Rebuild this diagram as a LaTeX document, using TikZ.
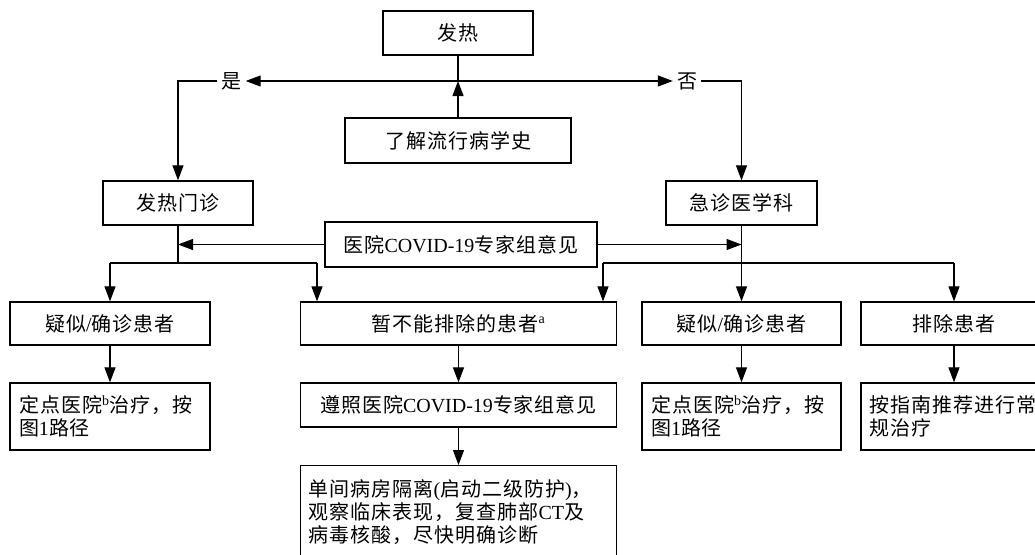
\documentclass[tikz,border=0pt]{standalone}
\usepackage{fontspec}
\setmainfont{Noto Sans CJK SC}[LetterSpace=5]
\newfontfamily\lat{Liberation Serif}
\usetikzlibrary{arrows.meta}
\tikzset{
 box/.style={draw, line width=1.3pt, minimum height=44pt, inner sep=0pt, font=\fontsize{20}{23}\selectfont},
 mbox/.style={box, align=left, inner xsep=0pt},
 conn/.style={line width=1.2pt},
 arr/.style={conn, -{Triangle[length=15pt,width=11pt]}},
 lbl/.style={inner xsep=4pt, inner ysep=2pt, font=\fontsize{20}{23}\selectfont},
}
\newcommand\mysup[1]{\textsuperscript{\lat #1}}
\begin{document}
\begin{tikzpicture}[x=1pt,y=-1pt]
\useasboundingbox (0,0) rectangle (1035,554);
\clip (0,0) rectangle (1035,554);
% nodes
\node[box, minimum width=150pt] (fever) at (458,33) {发热};
\node[box, minimum width=226pt, minimum height=45pt] (epi) at (458,140.5) {了解流行病学史};
\coordinate (J) at (458,81);
\node[lbl] (yes) at (231.5,81) {是};
\node[lbl] (no) at (687,81) {否};
\node[box, minimum width=150pt] (fc) at (178,203) {发热门诊};
\node[box, minimum width=151pt] (er) at (741.5,203) {急诊医学科};
\node[box, minimum width=272pt, minimum height=45pt] (exp) at (461,244.5) {医院{\lat COVID-19}专家组意见};
\node[box, minimum width=200pt, minimum height=43pt] (s1) at (110,323.5) {疑似{\lat /}确诊患者};
\node[box, minimum width=316pt, minimum height=43pt] (unk) at (458.5,323.5) {暂不能排除的患者\mysup{a}};
\node[box, minimum width=199pt, minimum height=43pt] (s2) at (741.5,323.5) {疑似{\lat /}确诊患者};
\node[box, minimum width=186pt, minimum height=43pt] (exc) at (954,323.5) {排除患者};
\node[mbox, minimum width=200pt, minimum height=67pt, text width=182pt] (t1) at (110,416.5) {定点医院\mysup{b}治疗，按\\图{\lat 1}路径};
\node[box, minimum width=316pt] (fol) at (458.5,405) {遵照医院{\lat COVID-19}专家组意见};
\node[mbox, minimum width=199pt, minimum height=67pt, text width=181pt] (t2) at (741.5,416.5) {定点医院\mysup{b}治疗，按\\图{\lat 1}路径};
\node[mbox, minimum width=186pt, minimum height=67pt, text width=170pt] (t3) at (954,416.5) {按指南推荐进行常\\规治疗};
\node[mbox, anchor=north, minimum width=316pt, minimum height=92pt, text width=300pt] (iso) at (458.5,465)
 {单间病房隔离{\lat (}启动二级防护{\lat )}，\\观察临床表现，复查肺部{\lat CT}及\\病毒核酸，尽快明确诊断};
% connectors
\draw[conn] (fever.south) -- (J);
\draw[arr] (epi.north) -- (J);
\draw[arr] (J) -- (yes.east);
\draw[arr] (yes.west) -| (fc.north);
\draw[arr] (J) -- (no.west);
\draw[arr] (no.east) -| (er.north);
\draw[arr] (exp.west) -- (fc.south |- exp.west);
\draw[arr] (exp.east) -- (er.south |- exp.east);
\coordinate (L) at (178,263);
\coordinate (R) at (741.5,263);
\coordinate (La) at (110,263);
\coordinate (Lb) at (317,263);
\coordinate (Ra) at (603,263);
\coordinate (Rb) at (954,263);
\draw[conn] (fc.south) -- (L);
\draw[conn] (er.south) -- (R);
\draw[conn] (La) -- (Lb);
\draw[conn] (Ra) -- (Rb);
\draw[arr] (La) -- (s1.north);
\draw[arr] (Lb) -- (Lb |- unk.north);
\draw[arr] (Ra) -- (Ra |- unk.north);
\draw[arr] (R) -- (s2.north);
\draw[arr] (Rb) -- (exc.north);
\draw[arr] (s1) -- (t1);
\draw[arr] (unk) -- (fol);
\draw[arr] (fol) -- (iso);
\draw[arr] (s2) -- (t2);
\draw[arr] (exc) -- (t3);
\end{tikzpicture}
\end{document}
